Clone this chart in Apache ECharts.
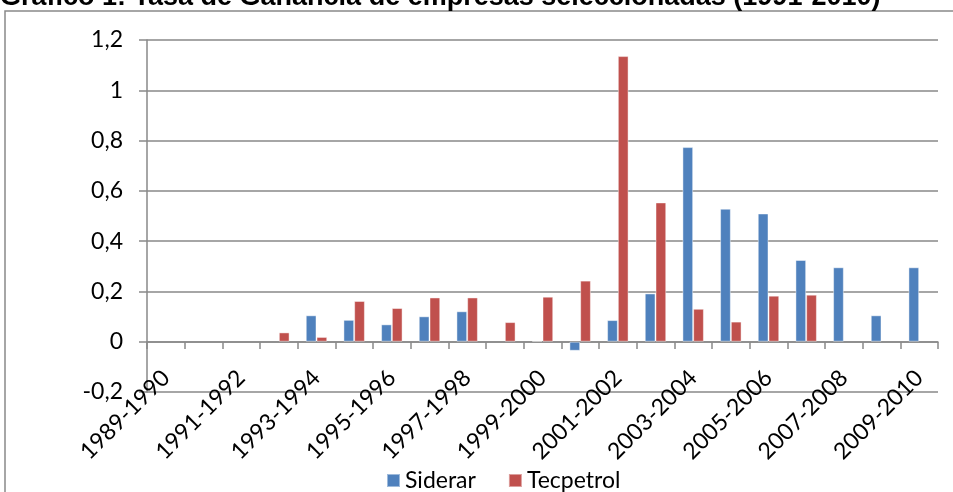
<!DOCTYPE html>
<html>
<head>
<meta charset="utf-8">
<title>Tasa de Ganancia</title>
<script src="https://cdn.jsdelivr.net/npm/echarts@6/dist/echarts.min.js"></script>
<style>
    html, body { margin: 0; padding: 0; background: #fff; }
    #profit-chart { width: 953px; height: 492px; }
</style>
</head>
<body>
<div id="profit-chart"></div>
<script>
// Periods on the category axis (only every other one gets a label)
var periods = [
    '1989-1990', '1990-1991', '1991-1992', '1992-1993', '1993-1994',
    '1994-1995', '1995-1996', '1996-1997', '1997-1998', '1998-1999',
    '1999-2000', '2000-2001', '2001-2002', '2002-2003', '2003-2004',
    '2004-2005', '2005-2006', '2006-2007', '2007-2008', '2008-2009',
    '2009-2010'
];

// Profit rate (null = no bar)
var siderar = [
    null, null, null, null, 0.105, 0.087, 0.069, 0.101, 0.121, null, 0.004,
    -0.036, 0.086, 0.192, 0.774, 0.529, 0.510, 0.325, 0.296, 0.105, 0.296
];
var tecpetrol = [
    null, null, null, 0.037, 0.019, 0.162, 0.134, 0.176, 0.176, 0.078, 0.179,
    0.243, 1.136, 0.554, 0.131, 0.080, 0.183, 0.187, null, null, null
];

// Value axis range
var yMin = -0.2;
var yMax = 1.2;
var yStep = 0.2;

var titleText = 'Gráfico 1: Tasa de Ganancia de empresas seleccionadas (1991-2010)';

var blue = '#4f81bd';
var red = '#c0504d';
var gridGray = '#898989';
var labelFont = 'Lato';

var chartElement = document.getElementById('profit-chart');
var chart = echarts.init(chartElement);

try {
    var option = {
        animation: false,
        backgroundColor: '#fff',
        // frame around the chart, title above it (cut off at the top of the picture)
        graphic: [
            {
                type: 'rect',
                shape: { x: 5, y: 11, width: 960, height: 500 },
                style: { fill: 'none', stroke: gridGray, lineWidth: 1.5 },
                silent: true
            },
            {
                type: 'text',
                x: 0,
                y: 11,
                style: {
                    text: titleText,
                    fill: '#000',
                    font: 'bold 27px "Liberation Sans", Arial, sans-serif',
                    verticalAlign: 'bottom'
                },
                silent: true
            }
        ],
        legend: {
            left: 381,
            top: 464,
            itemWidth: 13,
            itemHeight: 13,
            itemGap: 32,
            icon: 'rect',
            textStyle: {
                fontFamily: labelFont,
                fontSize: 23,
                color: '#000'
            },
            data: ['Siderar', 'Tecpetrol']
        },
        grid: {
            left: 147,
            right: 15,
            top: 40,
            bottom: 100,
            containLabel: false
        },
        xAxis: {
            type: 'category',
            data: periods,
            // category axis crosses the value axis at 0 (50px above the grid bottom)
            offset: -50,
            axisLine: {
                onZero: false,
                lineStyle: { color: gridGray, width: 1.5 }
            },
            axisTick: {
                show: true,
                interval: 0,
                length: 7,
                lineStyle: { color: gridGray, width: 1.5 }
            },
            axisLabel: {
                interval: 1,
                rotate: 45,
                margin: 32,
                fontFamily: labelFont,
                fontSize: 23,
                color: '#000'
            },
            splitLine: { show: false }
        },
        yAxis: {
            type: 'value',
            min: yMin,
            max: yMax,
            interval: yStep,
            axisLine: {
                show: true,
                lineStyle: { color: gridGray, width: 1.5 }
            },
            axisTick: {
                show: true,
                length: 8,
                lineStyle: { color: gridGray, width: 1.5 }
            },
            axisLabel: {
                margin: 24,
                fontFamily: labelFont,
                fontSize: 23,
                color: '#000',
                formatter: function (value) {
                    return String(Math.round(value * 10) / 10).replace('.', ',');
                }
            },
            splitLine: {
                show: true,
                lineStyle: { color: gridGray, width: 1.5 }
            }
        },
        series: [
            {
                name: 'Siderar',
                type: 'bar',
                data: siderar,
                barGap: '0%',
                barCategoryGap: '43%',
                itemStyle: {
                    color: blue,
                    borderColor: 'rgba(255,255,255,0.45)',
                    borderWidth: 1
                }
            },
            {
                name: 'Tecpetrol',
                type: 'bar',
                data: tecpetrol,
                barGap: '0%',
                barCategoryGap: '43%',
                itemStyle: {
                    color: red,
                    borderColor: 'rgba(255,255,255,0.45)',
                    borderWidth: 1
                }
            }
        ]
    };

    chart.setOption(option);
} catch (error) {
    console.error('Error initializing chart:', error);
}
</script>
</body>
</html>
